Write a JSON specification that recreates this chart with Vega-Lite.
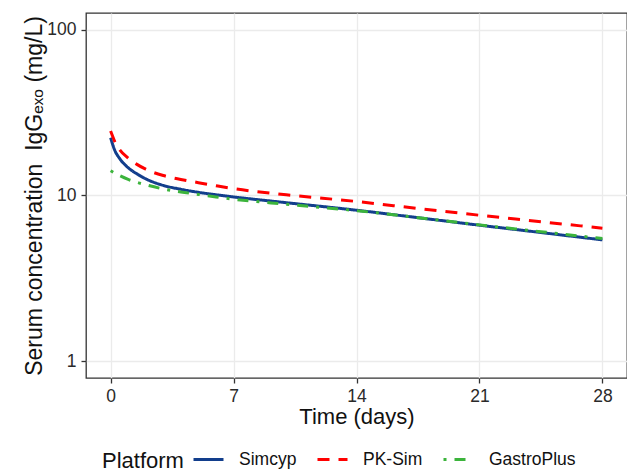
{
  "$schema": "https://vega.github.io/schema/vega-lite/v6.json",
  "width": 541,
  "height": 365,
  "autosize": {"type": "none"},
  "padding": {"left": 86, "top": 13, "right": 0, "bottom": 95},
  "background": "white",
  "config": {
    "font": "Liberation Sans",
    "view": {"stroke": "#333333", "strokeWidth": 1.3},
    "axis": {
      "domain": false,
      "grid": true,
      "gridColor": "#EBEBEB",
      "gridWidth": 1.3,
      "tickColor": "#333333",
      "tickSize": 5,
      "tickWidth": 1.3,
      "labelFont": "Liberation Sans",
      "labelFontSize": 17.5,
      "labelColor": "#2a2a2a",
      "labelPadding": 4,
      "titleFont": "Liberation Sans",
      "titleFontSize": 22,
      "titleFontWeight": "normal",
      "titleColor": "#111111"
    }
  },
  "data": {
    "values": [
      {"t": 0, "c": 22.3, "p": "Simcyp"},
      {"t": 0.1, "c": 20.6, "p": "Simcyp"},
      {"t": 0.25, "c": 18.6, "p": "Simcyp"},
      {"t": 0.5, "c": 16.8, "p": "Simcyp"},
      {"t": 1, "c": 14.7, "p": "Simcyp"},
      {"t": 1.5, "c": 13.5, "p": "Simcyp"},
      {"t": 2, "c": 12.6, "p": "Simcyp"},
      {"t": 3, "c": 11.5, "p": "Simcyp"},
      {"t": 4, "c": 10.9, "p": "Simcyp"},
      {"t": 5, "c": 10.45, "p": "Simcyp"},
      {"t": 6, "c": 10.1, "p": "Simcyp"},
      {"t": 7, "c": 9.8, "p": "Simcyp"},
      {"t": 10, "c": 9.05, "p": "Simcyp"},
      {"t": 14, "c": 8.15, "p": "Simcyp"},
      {"t": 17.5, "c": 7.35, "p": "Simcyp"},
      {"t": 21, "c": 6.62, "p": "Simcyp"},
      {"t": 24.5, "c": 5.98, "p": "Simcyp"},
      {"t": 28, "c": 5.4, "p": "Simcyp"},
      {"t": 0, "c": 24.5, "p": "PK-Sim"},
      {"t": 0.1, "c": 23.0, "p": "PK-Sim"},
      {"t": 0.25, "c": 21.0, "p": "PK-Sim"},
      {"t": 0.5, "c": 19.0, "p": "PK-Sim"},
      {"t": 1, "c": 16.8, "p": "PK-Sim"},
      {"t": 1.5, "c": 15.4, "p": "PK-Sim"},
      {"t": 2, "c": 14.4, "p": "PK-Sim"},
      {"t": 3, "c": 13.2, "p": "PK-Sim"},
      {"t": 4, "c": 12.5, "p": "PK-Sim"},
      {"t": 5, "c": 11.95, "p": "PK-Sim"},
      {"t": 6, "c": 11.45, "p": "PK-Sim"},
      {"t": 7, "c": 11.0, "p": "PK-Sim"},
      {"t": 10, "c": 10.1, "p": "PK-Sim"},
      {"t": 14, "c": 9.2, "p": "PK-Sim"},
      {"t": 17.5, "c": 8.35, "p": "PK-Sim"},
      {"t": 21, "c": 7.6, "p": "PK-Sim"},
      {"t": 24.5, "c": 6.95, "p": "PK-Sim"},
      {"t": 28, "c": 6.35, "p": "PK-Sim"},
      {"t": 0, "c": 14.1, "p": "GastroPlus"},
      {"t": 0.5, "c": 13.2, "p": "GastroPlus"},
      {"t": 1, "c": 12.5, "p": "GastroPlus"},
      {"t": 1.5, "c": 12.0, "p": "GastroPlus"},
      {"t": 2, "c": 11.6, "p": "GastroPlus"},
      {"t": 3, "c": 10.95, "p": "GastroPlus"},
      {"t": 4, "c": 10.5, "p": "GastroPlus"},
      {"t": 5, "c": 10.15, "p": "GastroPlus"},
      {"t": 6, "c": 9.8, "p": "GastroPlus"},
      {"t": 7, "c": 9.5, "p": "GastroPlus"},
      {"t": 10, "c": 8.85, "p": "GastroPlus"},
      {"t": 14, "c": 8.1, "p": "GastroPlus"},
      {"t": 17.5, "c": 7.35, "p": "GastroPlus"},
      {"t": 21, "c": 6.65, "p": "GastroPlus"},
      {"t": 24.5, "c": 6.05, "p": "GastroPlus"},
      {"t": 28, "c": 5.5, "p": "GastroPlus"}
    ]
  },
  "mark": {"type": "line", "strokeWidth": 3, "interpolate": "monotone", "clip": true},
  "encoding": {
    "x": {
      "field": "t",
      "type": "quantitative",
      "scale": {"domain": [-1.4, 29.4], "nice": false, "zero": false},
      "axis": {"values": [0, 7, 14, 21, 28], "title": "Time (days)", "titlePadding": 2}
    },
    "y": {
      "field": "c",
      "type": "quantitative",
      "scale": {"type": "log", "domain": [0.794, 125.9], "nice": false},
      "axis": {"values": [1, 10, 100], "format": "~g", "labelPadding": 5, "title": "Serum concentration\u00a0\u00a0IgGₑₓₒ (mg/L)", "titleFontSize": 23, "titlePadding": 0}
    },
    "color": {
      "field": "p",
      "type": "nominal",
      "scale": {"domain": ["Simcyp", "PK-Sim", "GastroPlus"], "range": ["#123E8C", "#FF0000", "#3CB43C"]},
      "legend": {
        "title": "Platform",
        "orient": "none",
        "legendX": 16,
        "legendY": 430,
        "direction": "horizontal",
        "titleOrient": "left",
        "titleAnchor": "end",
        "titleBaseline": "line-bottom",
        "titleLineHeight": 12,
        "titleFontSize": 22,
        "titleFontWeight": "normal",
        "titleColor": "#111111",
        "titlePadding": 8,
        "labelFontSize": 17.5,
        "labelColor": "#111111",
        "labelOffset": 14,
        "columnPadding": 14,
        "symbolType": "stroke",
        "symbolSize": 900,
        "symbolStrokeWidth": 3
      }
    },
    "strokeDash": {
      "field": "p",
      "type": "nominal",
      "scale": {"domain": ["Simcyp", "PK-Sim", "GastroPlus"], "range": [[1, 0], [12, 9], [3, 8, 11, 8]]},
      "legend": null
    }
  }
}
